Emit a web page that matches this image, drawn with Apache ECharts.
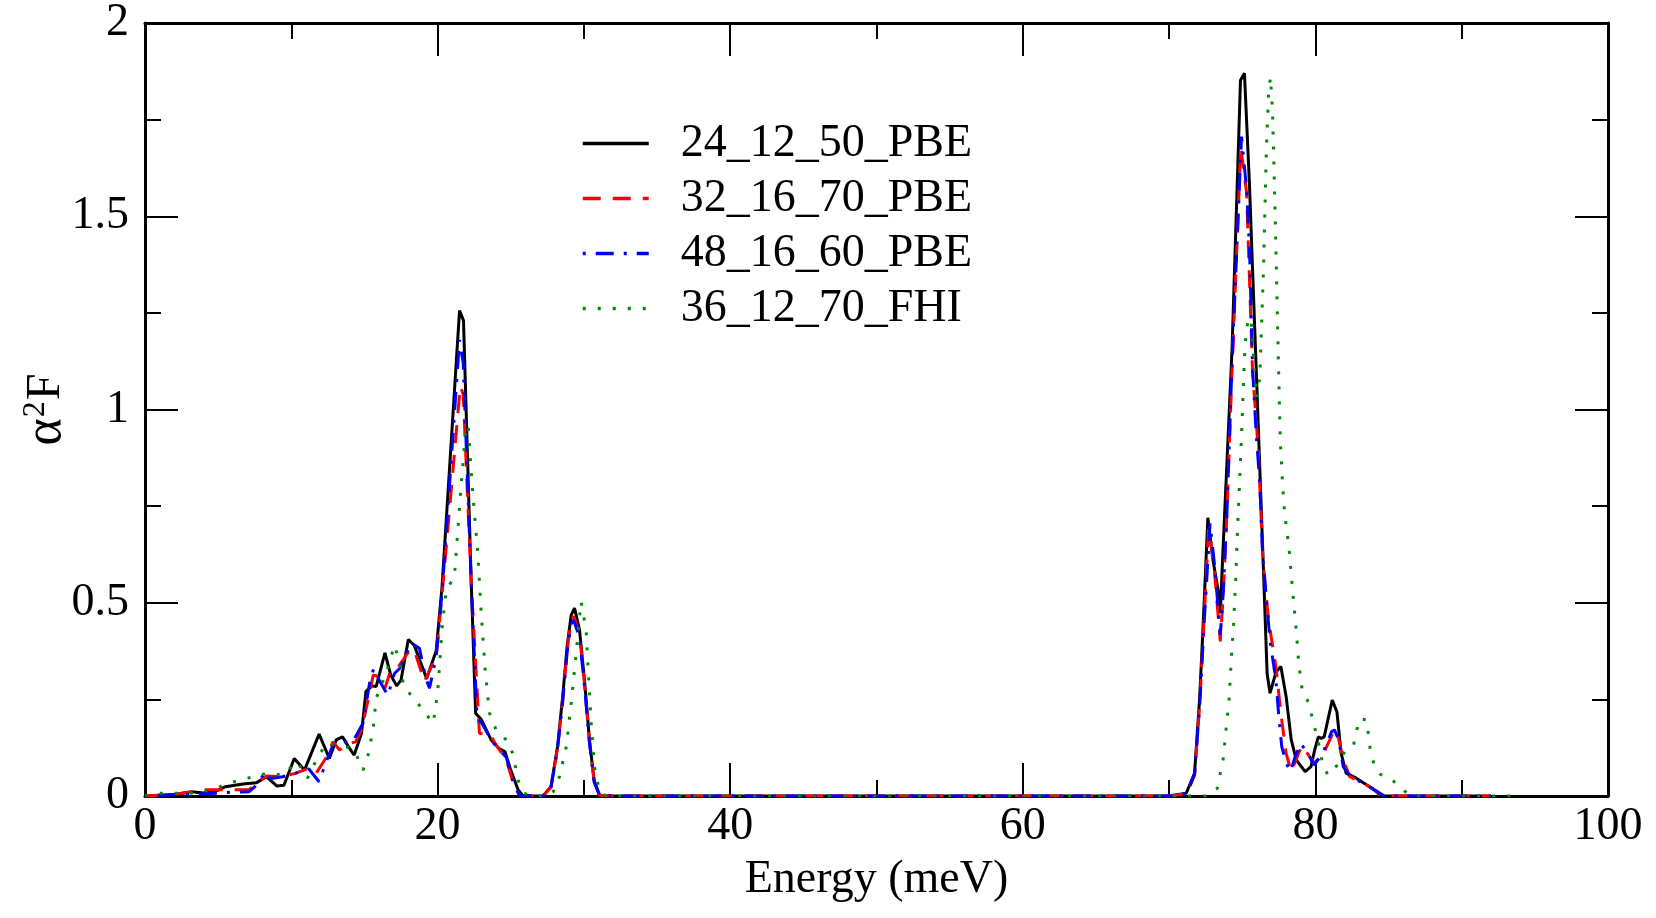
<!DOCTYPE html>
<html>
<head>
<meta charset="utf-8">
<script src="https://cdn.jsdelivr.net/npm/echarts@6/dist/echarts.min.js"></script>
<style>
html,body{margin:0;padding:0;background:#fff;}
#chart{width:1656px;height:918px;}
</style>
</head>
<body>
<div id="chart"></div>
<script>
// ---- data (energy in meV, alpha^2F) ----
const seriesNames = ['24_12_50_PBE', '32_16_70_PBE', '48_16_60_PBE', '36_12_70_FHI'];
const xTicks = [0, 20, 40, 60, 80, 100];
const yTicks = [0, 0.5, 1, 1.5, 2];

const pbe24 = [
 [0,0],[1,0.002],[2,0.004],[3.2,0.011],[4,0.008],[5,0.015],[5.5,0.024],[6.7,0.031],[7.6,0.034],[8.3,0.05],[9.0,0.026],[9.5,0.028],
 [10.2,0.097],[10.9,0.067],[11.9,0.16],[12.6,0.097],[13.07,0.145],[13.5,0.153],[13.9,0.128],[14.3,0.106],[14.8,0.162],[15.1,0.27],
 [15.5,0.285],[15.8,0.283],[16.4,0.37],[16.8,0.313],[17.2,0.285],[17.5,0.30],[18.0,0.405],[18.4,0.39],[19.25,0.304],[19.9,0.375],
 [20.3,0.54],[21.5,1.256],[21.77,1.23],[22.3,0.55],[22.6,0.214],[23.0,0.197],[23.66,0.145],[24.2,0.123],[24.6,0.115],[25.0,0.067],
 [25.5,0.016],[25.8,0.002],[26.5,0],[27.2,0],[27.75,0.024],[28.2,0.128],[28.55,0.257],[28.85,0.386],[29.13,0.468],[29.36,0.486],
 [29.7,0.43],[30.04,0.30],[30.38,0.145],[30.7,0.04],[31.07,0.002],[32,0],[50,0],[70,0],[71.17,0.007],[71.74,0.059],[72.08,0.248],
 [72.3,0.42],[72.65,0.72],[73.0,0.61],[73.35,0.533],[73.5,0.473],[73.7,0.65],[74.3,1.154],[74.88,1.852],[75.15,1.87],[75.49,1.585],
 [75.99,1.068],[76.4,0.637],[76.7,0.317],[76.9,0.266],[77.3,0.32],[77.64,0.335],[78.0,0.257],[78.35,0.145],[78.7,0.093],[79.3,0.063],
 [79.7,0.076],[79.95,0.119],[80.2,0.153],[80.4,0.149],[80.6,0.153],[81.15,0.248],[81.47,0.218],[81.76,0.11],[82.1,0.059],[82.8,0.046],
 [83.7,0.024],[84.4,0.007],[84.7,0],[92,0]
];

const pbe32 = [
 [0,0],[2,0.004],[4.2,0.016],[6.0,0.016],[7.1,0.016],[8.3,0.052],[9.4,0.05],[10.3,0.059],[11.2,0.072],[11.7,0.059],[12.4,0.10],
 [12.85,0.14],[13.3,0.119],[13.9,0.136],[14.4,0.14],[14.8,0.171],[15.2,0.24],[15.6,0.313],[16.0,0.309],[16.4,0.279],[16.8,0.326],
 [17.3,0.333],[18.1,0.378],[18.4,0.378],[19.1,0.296],[19.9,0.36],[20.1,0.438],[20.35,0.54],[21.55,1.06],[21.75,1.04],[22.3,0.55],
 [22.86,0.162],[23.55,0.162],[24.0,0.132],[24.7,0.093],[25.25,0.024],[25.6,0.002],[26.5,0],[27.2,0],[27.75,0.022],[28.2,0.125],
 [28.55,0.25],[28.85,0.375],[29.13,0.455],[29.3,0.465],[29.7,0.42],[30.04,0.29],[30.38,0.14],[30.7,0.038],[31.07,0.002],[32,0],
 [50,0],[70,0],[71.2,0.006],[71.74,0.055],[72.1,0.24],[72.35,0.43],[72.7,0.69],[72.85,0.66],[73.1,0.58],[73.5,0.40],[73.7,0.52],
 [73.95,0.73],[74.3,1.1],[74.9,1.68],[75.3,1.56],[75.5,1.33],[75.7,1.1],[76.1,0.895],[76.4,0.62],[76.7,0.49],[76.9,0.43],[77.3,0.335],
 [77.64,0.214],[78.0,0.11],[78.35,0.063],[78.9,0.115],[79.1,0.13],[79.9,0.085],[80.5,0.106],[81.3,0.171],[81.5,0.163],[81.9,0.093],
 [82.35,0.05],[83.26,0.033],[83.9,0.02],[84.4,0.002],[84.8,0],[92,0]
];

const pbe48 = [
 [0,0],[2,0.003],[4.9,0.007],[6,0.01],[7.1,0.011],[7.7,0.03],[8.2,0.063],[8.6,0.045],[9.4,0.05],[10.3,0.059],[11.2,0.07],[11.9,0.037],
 [12.4,0.09],[12.85,0.132],[13.3,0.14],[14.2,0.14],[14.9,0.188],[15.46,0.317],[15.7,0.33],[16.0,0.30],[16.6,0.26],[17.05,0.317],
 [17.4,0.33],[18.2,0.395],[18.76,0.382],[19.2,0.304],[19.45,0.279],[19.9,0.36],[20.1,0.44],[20.35,0.55],[21.5,1.18],[21.75,1.12],
 [22.3,0.55],[22.7,0.2],[23.0,0.19],[23.66,0.145],[24.2,0.12],[24.7,0.1],[25.2,0.03],[25.6,0.002],[26.5,0],[27.2,0],[27.75,0.022],
 [28.2,0.122],[28.55,0.245],[28.85,0.37],[29.13,0.445],[29.3,0.455],[29.7,0.41],[30.04,0.285],[30.38,0.138],[30.7,0.036],[31.07,0.002],
 [32,0],[50,0],[70,0],[71.2,0.006],[71.74,0.055],[72.1,0.24],[72.4,0.45],[72.8,0.705],[73.1,0.6],[73.5,0.417],[73.7,0.524],[73.95,0.73],
 [74.3,1.12],[74.95,1.706],[75.3,1.568],[75.5,1.41],[75.7,1.11],[75.95,0.938],[76.2,0.81],[76.4,0.62],[76.7,0.49],[76.9,0.40],
 [77.3,0.30],[77.5,0.205],[77.7,0.128],[78.0,0.085],[78.3,0.063],[78.6,0.10],[79.0,0.136],[79.55,0.106],[79.9,0.08],[80.5,0.11],
 [81.1,0.166],[81.3,0.171],[81.6,0.145],[81.9,0.076],[82.5,0.046],[83.3,0.033],[84.0,0.016],[84.7,0],[92,0]
];

const fhi36 = [
 [0,0],[1,0.007],[3,0.007],[4.5,0.015],[5.8,0.034],[7.4,0.05],[8.4,0.06],[9.4,0.054],[10.4,0.089],[11.1,0.046],[11.8,0.10],[12.4,0.136],
 [13.3,0.13],[14.0,0.125],[14.4,0.11],[14.9,0.067],[15.2,0.097],[15.6,0.175],[15.8,0.253],[16.5,0.32],[17.05,0.39],[17.4,0.347],
 [17.7,0.28],[18.3,0.257],[19.25,0.21],[19.7,0.188],[20.0,0.266],[20.35,0.455],[20.6,0.533],[21.15,0.567],[21.6,0.80],[21.95,0.96],
 [22.1,0.95],[22.4,0.783],[22.75,0.628],[22.98,0.473],[23.27,0.317],[23.55,0.214],[24.0,0.171],[24.7,0.145],[25.14,0.11],[25.5,0.041],
 [25.9,0.007],[26.5,0],[27.5,0],[27.9,0.011],[28.33,0.05],[28.8,0.128],[29.13,0.24],[29.47,0.369],[29.8,0.503],[30.15,0.43],[30.33,0.30],
 [30.5,0.188],[30.72,0.076],[31.07,0.011],[31.5,0],[50,0],[72.5,0],[73.3,0.02],[73.5,0.059],[73.7,0.097],[73.9,0.175],[74.1,0.25],
 [74.27,0.365],[74.4,0.44],[74.55,0.56],[74.66,0.675],[74.88,0.865],[75.0,0.98],[75.1,1.09],[75.2,1.17],[75.3,1.21],[75.56,1.257],
 [75.8,1.12],[76.0,1.03],[76.2,1.085],[76.45,1.36],[76.64,1.66],[76.8,1.82],[76.93,1.86],[77.07,1.77],[77.25,1.5],[77.43,1.19],
 [77.6,0.92],[77.75,0.81],[77.9,0.73],[78.2,0.64],[78.4,0.55],[78.7,0.425],[78.85,0.347],[79.1,0.274],[79.55,0.24],[79.8,0.20],
 [80.05,0.162],[80.3,0.123],[80.47,0.086],[80.85,0.054],[81.5,0.08],[82.0,0.115],[82.6,0.13],[83.0,0.20],[83.5,0.197],[83.75,0.12],
 [84.0,0.083],[84.4,0.057],[85.3,0.04],[86.0,0.016],[86.5,0],[94,0]
];

const seriesData = [pbe24, pbe32, pbe48, fhi36];
const colors = ['#000000', '#ff0000', '#0000ff', '#008b00'];
const dashes = ['solid', [18, 12], [3, 10, 18, 10], [3, 12]];

const FONT = "'Liberation Serif', 'Times New Roman', serif";
const chart = echarts.init(document.getElementById('chart'), null, {renderer: 'canvas'});

function axisCommon(show) {
  return {
    axisLine: {show: true, onZero: false, lineStyle: {color: '#000', width: 3}},
    axisTick: {show: true, inside: true, length: 33, lineStyle: {color: '#000', width: 2}},
    minorTick: {show: true, splitNumber: 2, length: 16, lineStyle: {color: '#000', width: 2}},
    splitLine: {show: false},
    axisLabel: {show: show, color: '#000', fontFamily: FONT, fontSize: 46}
  };
}

const option = {
  animation: false,
  backgroundColor: '#fff',
  grid: {left: 145, right: 48, top: 23, bottom: 122, containLabel: false},
  legend: {
    show: true,
    orient: 'vertical',
    left: 581,
    top: 116,
    padding: 0,
    itemWidth: 66,
    itemHeight: 14,
    itemGap: 0,
    data: seriesNames,
    itemStyle: {opacity: 0},
    lineStyle: {width: 3.5},
    textStyle: {fontFamily: FONT, fontSize: 46, color: '#000', lineHeight: 55, padding: [0, 0, 0, 27]}
  },
  xAxis: [
    Object.assign({
      type: 'value', min: xTicks[0], max: xTicks[xTicks.length - 1], interval: xTicks[1] - xTicks[0], position: 'bottom',
      name: 'Energy (meV)', nameLocation: 'middle', nameGap: 61, nameMoveOverlap: false,
      nameTextStyle: {fontFamily: FONT, fontSize: 46, color: '#000'}
    }, axisCommon(true), {axisLabel: {show: true, color: '#000', fontFamily: FONT, fontSize: 46, margin: 8}}),
    Object.assign({
      type: 'value', min: xTicks[0], max: xTicks[xTicks.length - 1], interval: xTicks[1] - xTicks[0], position: 'top'
    }, axisCommon(false))
  ],
  yAxis: [
    Object.assign({
      type: 'value', min: yTicks[0], max: yTicks[yTicks.length - 1], interval: yTicks[1] - yTicks[0], position: 'left',
      name: '{a|α}{s|2}{f|F}', nameLocation: 'middle', nameGap: 73, nameRotate: 90, nameMoveOverlap: false,
      nameTextStyle: {
        fontFamily: FONT, fontSize: 50, color: '#000',
        rich: {
          a: {fontFamily: FONT, fontSize: 52, color: '#000'},
          s: {fontFamily: FONT, fontSize: 32, color: '#000', verticalAlign: 'top', padding: [0, 1, 0, 1]},
          f: {fontFamily: FONT, fontSize: 48, color: '#000'}
        }
      }
    }, axisCommon(true), {axisLabel: {show: true, color: '#000', fontFamily: FONT, fontSize: 46, margin: 16}}),
    Object.assign({
      type: 'value', min: yTicks[0], max: yTicks[yTicks.length - 1], interval: yTicks[1] - yTicks[0], position: 'right'
    }, axisCommon(false))
  ],
  series: seriesNames.map((name, i) => ({
    name: name,
    type: 'line',
    xAxisIndex: 0,
    yAxisIndex: 0,
    data: seriesData[i],
    showSymbol: false,
    symbol: 'none',
    smooth: false,
    color: colors[i],
    lineStyle: {color: colors[i], width: 3, type: dashes[i]},
    z: 2 + i
  }))
};
chart.setOption(option);
</script>
</body>
</html>
